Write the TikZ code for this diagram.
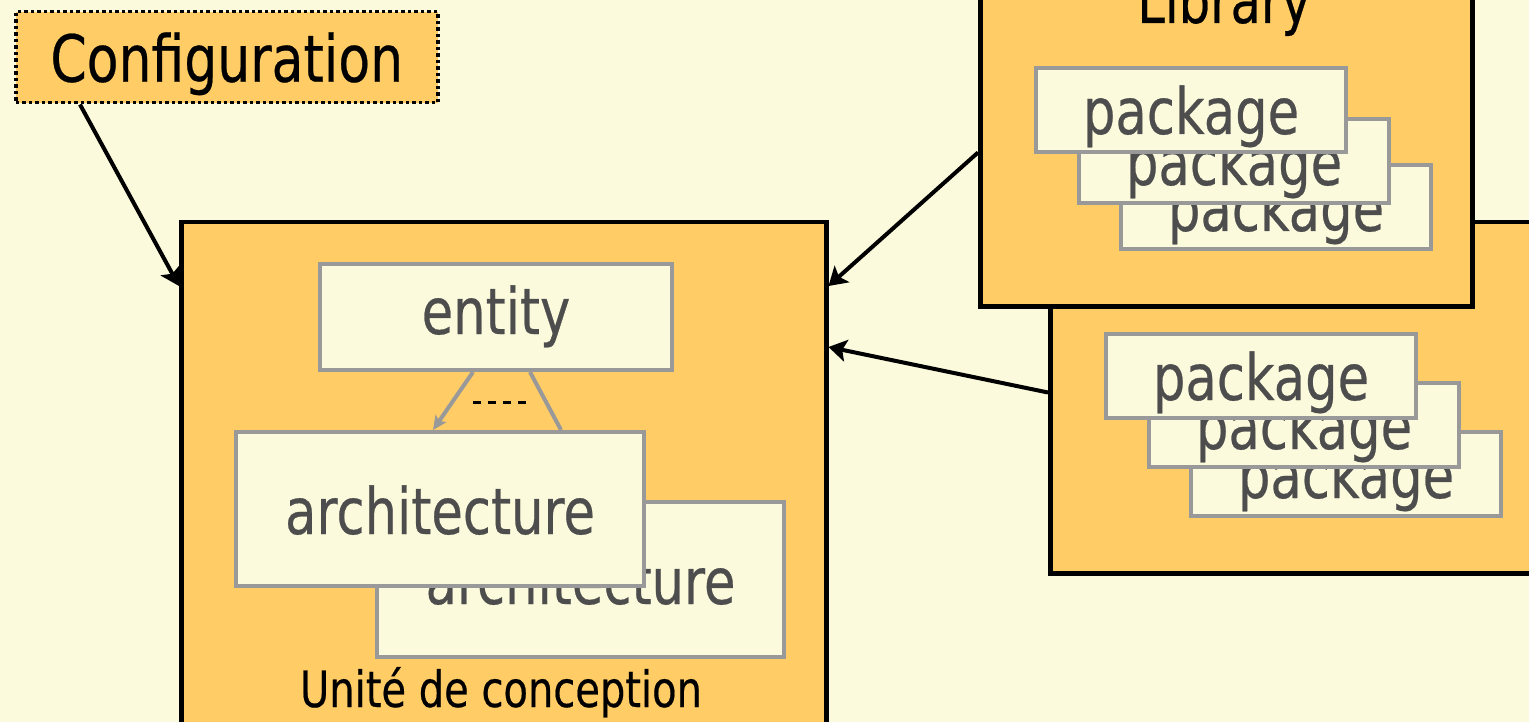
\documentclass[tikz,border=0pt]{standalone}
\usepackage{fontspec}
\setmainfont{DejaVu Sans}[FakeStretch=0.8,FakeBold=0.4]
\usepackage{tikz}
\usetikzlibrary{positioning,arrows.meta}
\definecolor{cream}{HTML}{FCFADC}
\definecolor{unitorange}{HTML}{FFCC66}
\definecolor{boxgrey}{HTML}{999999}
\definecolor{labelgrey}{HTML}{4D4D4D}

\begin{document}
\begin{tikzpicture}[x=1pt,y=-1pt,
  holder/.style={draw=black,line width=4.5pt,fill=unitorange,inner sep=0,anchor=north west},
  part/.style={draw=boxgrey,line width=4pt,fill=cream,inner sep=0,anchor=north west,text=labelgrey,font=\fontsize{64}{64}\selectfont},
  pkg/.style={part,minimum width=310pt,text height=66pt,text depth=18pt},
  link/.style={-{Stealth[length=18pt,width=22pt,inset=4pt]},line width=4pt}]

\fill[cream] (0,0) rectangle (1529,722);
\useasboundingbox (0,0) rectangle (1529,722);

% second library, behind
\node[holder,minimum width=500pt,minimum height=351pt] (lib2) at (1048,220) {};
\foreach \n/\x/\y in {3/1189/430, 2/1147/381, 1/1104/332}
  \node[pkg] (spkg\n) at (\x,\y) {package};

% library
\node[holder,minimum width=492pt,minimum height=334pt] (lib) at (978,-30) {};
\node[anchor=base,font=\fontsize{62}{62}\selectfont] (libname) at (1224,23) {Library};
\foreach \n/\x/\y in {3/1119/163, 2/1077/117, 1/1034/66}
  \node[pkg] (lpkg\n) at (\x,\y) {package};

% design unit
\node[holder,minimum width=645pt,minimum height=530pt] (unit) at (179,220) {};
\node[anchor=base,font=\fontsize{50}{50}\selectfont] (unitname) at (501,707) {Unité de conception};

\node[part,minimum width=407pt,text height=102pt,text depth=53pt] (arch2) at (375,500) {architecture};
\node[part,minimum width=408pt,text height=102pt,text depth=52pt] (arch) at (234,430) {architecture};
\node[part,minimum width=352pt,text height=70pt,text depth=36pt] (ent) at (318,262) {entity};

\draw[boxgrey,line width=4pt,-{Stealth[length=14pt,width=13pt,inset=3pt]}] ([xshift=155pt]ent.south west) -- ([xshift=199pt]arch.north west);
\draw[boxgrey,line width=4pt] ([xshift=212pt]ent.south west) -- ([xshift=327pt]arch.north west);
\draw[line width=3pt,dash pattern=on 8pt off 7pt] (473,402) -- (530,402);

% configuration
\node[holder,draw=black,dash pattern=on 3.5pt off 3pt,line width=3.5pt,minimum width=422pt,text height=70pt,text depth=21pt,font=\fontsize{65}{65}\selectfont] (cfg) at (14,10) {Configuration};

\draw[link] ([xshift=66pt]cfg.south west) -- ([yshift=-66pt]unit.north west);
\draw[link] ([yshift=156pt]lib.south west) -- ([yshift=-66pt]unit.north east);
\draw[link] ([yshift=183pt]lib2.south west) -- ([yshift=-127pt]unit.north east);

\end{tikzpicture}
\end{document}
